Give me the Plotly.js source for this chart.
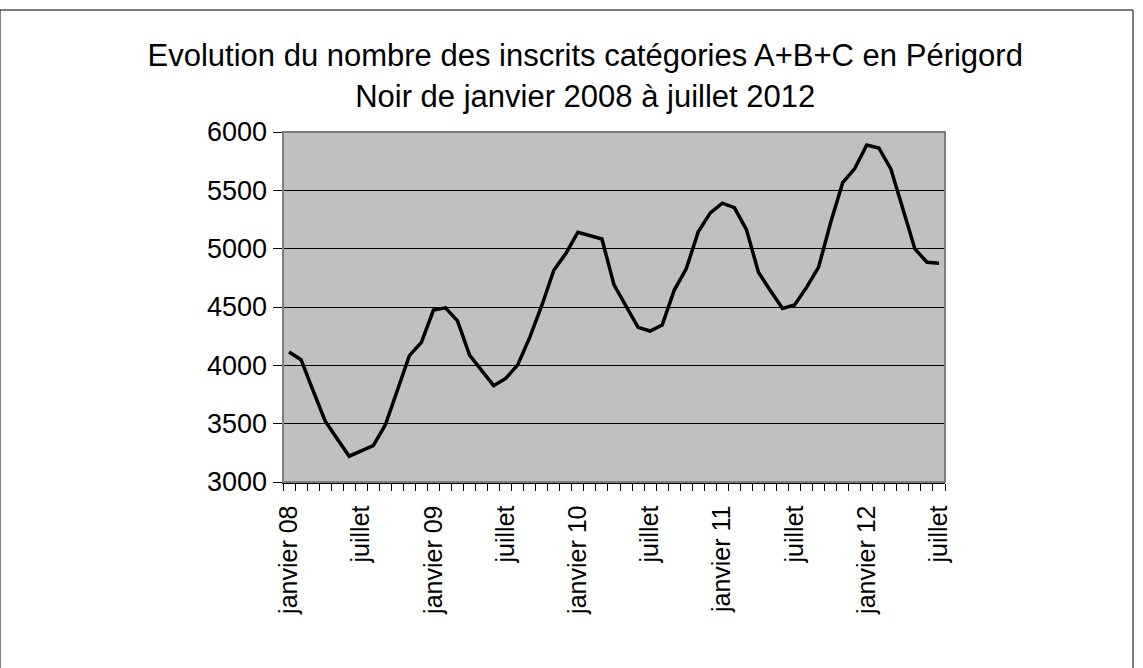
<!DOCTYPE html>
<html><head><meta charset="utf-8">
<script src="https://cdn.plot.ly/plotly-3.0.1.min.js"></script>
<style>html,body{margin:0;padding:0;background:#fff}#chart{width:1143px;height:668px}</style>
</head><body><div id="chart"></div>
<script>
const months = ["janvier 08","février 08","mars 08","avril 08","mai 08","juin 08","juillet 08","août 08","septembre 08","octobre 08","novembre 08","décembre 08",
"janvier 09","février 09","mars 09","avril 09","mai 09","juin 09","juillet 09","août 09","septembre 09","octobre 09","novembre 09","décembre 09",
"janvier 10","février 10","mars 10","avril 10","mai 10","juin 10","juillet 10","août 10","septembre 10","octobre 10","novembre 10","décembre 10",
"janvier 11","février 11","mars 11","avril 11","mai 11","juin 11","juillet 11","août 11","septembre 11","octobre 11","novembre 11","décembre 11",
"janvier 12","février 12","mars 12","avril 12","mai 12","juin 12","juillet 12"];
const inscrits = [4115,4048,3783,3524,3370,3221,3266,3311,3489,3794,4083,4197,
4474,4493,4381,4088,3954,3826,3888,4004,4240,4513,4815,4959,
5141,5115,5083,4689,4503,4326,4294,4346,4643,4827,5144,5307,
5390,5351,5164,4798,4640,4488,4517,4668,4842,5224,5566,5687,
5889,5863,5683,5348,4998,4884,4875];
const tickLabels = ["janvier 08","juillet","janvier 09","juillet","janvier 10","juillet","janvier 11","juillet","janvier 12","juillet"];
const tickMonths = ["janvier 08","juillet 08","janvier 09","juillet 09","janvier 10","juillet 10","janvier 11","juillet 11","janvier 12","juillet 12"];
const valueTicks = [3000,3500,4000,4500,5000,5500,6000];

const FONT = 'Liberation Sans, Arial, sans-serif';
const idx = months.map((m,i)=>i);
const boundaries = months.map((m,i)=>i-0.5).concat([months.length-0.5]);

const trace = {
  type: 'scatter', mode: 'lines',
  x: idx, y: inscrits, text: months,
  line: {color: '#000000', width: 3.5},
  hoverinfo: 'text+y'
};

const layout = {
  width: 1143, height: 668,
  margin: {l:283, r:198, t:132, b:186},
  paper_bgcolor: '#ffffff',
  plot_bgcolor: '#c0c0c0',
  showlegend: false,
  title: {text: 'Evolution du nombre des inscrits catégories A+B+C en Périgord<br>Noir de janvier 2008 à juillet 2012',
          x: 0.512, xanchor: 'center', y: 0.9005, yanchor: 'top',
          font: {family: FONT, size: 31, color: '#000'}},
  xaxis: {
    range: [-0.5, months.length-0.5], showgrid:false, zeroline:false,
    tickmode: 'array', tickvals: tickMonths.map(m=>months.indexOf(m)), ticktext: tickLabels,
    tickangle: -90, ticks: 'outside', ticklen: 12, tickcolor: 'rgba(0,0,0,0)',
    tickfont: {family: FONT, size: 25, color: '#000'},
    minor: {tickmode: 'array', tickvals: boundaries, ticks: 'outside', ticklen: 7, tickwidth: 1, tickcolor: '#000', showgrid: false},
    showline: true, linecolor: '#000', linewidth: 1.5
  },
  yaxis: {
    range: [3000, 6000], tickmode: 'array', tickvals: valueTicks,
    ticks: 'outside', ticklen: 9, tickwidth: 1, tickcolor: '#000',
    tickfont: {family: FONT, size: 27, color: '#000'},
    showgrid: true, gridcolor: '#000', gridwidth: 1, zeroline: false,
    showline: true, linecolor: '#000', linewidth: 1.5
  },
  shapes: [
    {type:'rect', xref:'paper', yref:'paper', x0: -283/662, x1: (1133-283)/662, y0: -186/350-0.1, y1: (668-10-186)/350,
     line:{color:'#000', width:1}, fillcolor:'rgba(0,0,0,0)'},
    {type:'rect', xref:'x domain', yref:'y domain', x0: 0, x1: 1, y0: 0, y1: 1,
     line:{color:'#808080', width:2}, fillcolor:'rgba(0,0,0,0)'}
  ]
};
Plotly.newPlot('chart', [trace], layout, {displayModeBar:false, staticPlot:true});
</script>
</body></html>
